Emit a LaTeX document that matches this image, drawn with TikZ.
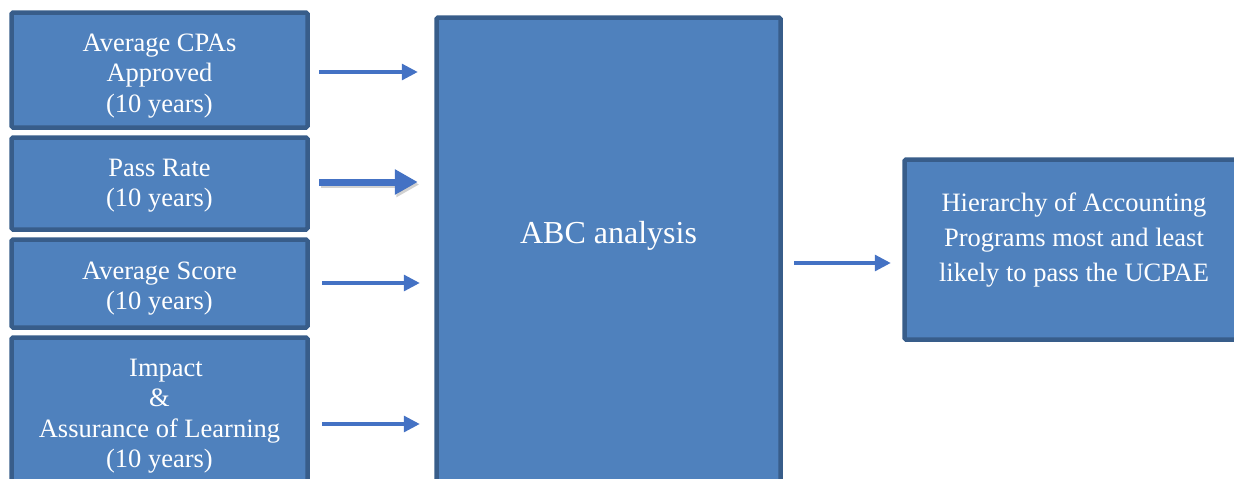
\documentclass[tikz,border=0pt]{standalone}
\usepackage{fontspec}
\setmainfont{Liberation Serif}
\usetikzlibrary{arrows.meta,calc}
\definecolor{boxfill}{HTML}{4F81BD}
\definecolor{boxline}{HTML}{385D8A}
\definecolor{arrowblue}{HTML}{4472C4}
\begin{document}
\begin{tikzpicture}[x=1pt,y=-1pt,
 box/.style={draw=boxline,fill=boxfill,line width=4.5pt,rounded corners=1.5pt,inner sep=0pt},
 txt/.style={inner sep=0pt,align=center,text=white,font=\fontsize{26.5}{30.5}\selectfont},
 thinarrow/.style={draw=arrowblue,line width=3.2pt,-{Triangle[length=16pt,width=16pt]}},
 thickarrow/.style={draw=arrowblue,line width=7pt,-{Triangle[length=23pt,width=24pt]}},
]
\useasboundingbox (0,0) rectangle (1234,479);
\node[box,minimum width=296pt,minimum height=115pt,
  label={[txt,yshift=-6pt]center:Average CPAs\\Approved\\(10 years)}] (b1) at (159.5,70) {};
\node[box,minimum width=296pt,minimum height=92pt,
  label={[txt,yshift=-2pt]center:Pass Rate\\(10 years)}] (b2) at (159.5,183.5) {};
\node[box,minimum width=296pt,minimum height=88pt,
  label={[txt,yshift=-5pt]center:Average Score\\(10 years)}] (b3) at (159.5,283.5) {};
\node[box,minimum width=296pt,minimum height=149pt,
  label={[txt,yshift=-4pt]center:\hspace*{13pt}Impact\\\&\\Assurance of Learning\\(10 years)}] (b4) at (159.5,412) {};
\node[box,minimum width=344pt,minimum height=479.5pt,
  label={[txt,font=\fontsize{32}{36}\selectfont,yshift=21.25pt]center:ABC analysis}] (abc) at (608.5,257.25) {};
\node[box,minimum width=355.5pt,minimum height=180pt,
  label={[txt,font=\fontsize{26.5}{35}\selectfont,xshift=-8.25pt,yshift=9.5pt]center:Hierarchy of Accounting\\Programs most and least\\likely to pass the UCPAE}] (res) at (1082.25,249.5) {};
% arrow start points
\coordinate (s1) at ([shift={(9.5,2)}]b1.east);
\coordinate (s2) at ([shift={(9.5,-1.5)}]b2.east);
\coordinate (s3) at ([shift={(12.5,-0.5)}]b3.east);
\coordinate (s4) at ([shift={(12.5,12)}]b4.east);
\coordinate (s5) at ([shift={(11.5,5.75)}]abc.east);
\draw[thinarrow,shorten >=16.5pt] (s1) -- (s1 -| abc.west);
\begin{scope}[transform canvas={shift={(1.5pt,-2.5pt)}}]
\draw[thickarrow,draw=black,opacity=0.18,shorten >=16.5pt] (s2) -- (s2 -| abc.west);
\end{scope}
\draw[thickarrow,shorten >=16.5pt] (s2) -- (s2 -| abc.west);
\draw[thinarrow,shorten >=14.5pt] (s3) -- (s3 -| abc.west);
\draw[thinarrow,shorten >=14.5pt] (s4) -- (s4 -| abc.west);
\draw[thinarrow,shorten >=11.5pt] (s5) -- (s5 -| res.west);
\end{tikzpicture}
\end{document}
